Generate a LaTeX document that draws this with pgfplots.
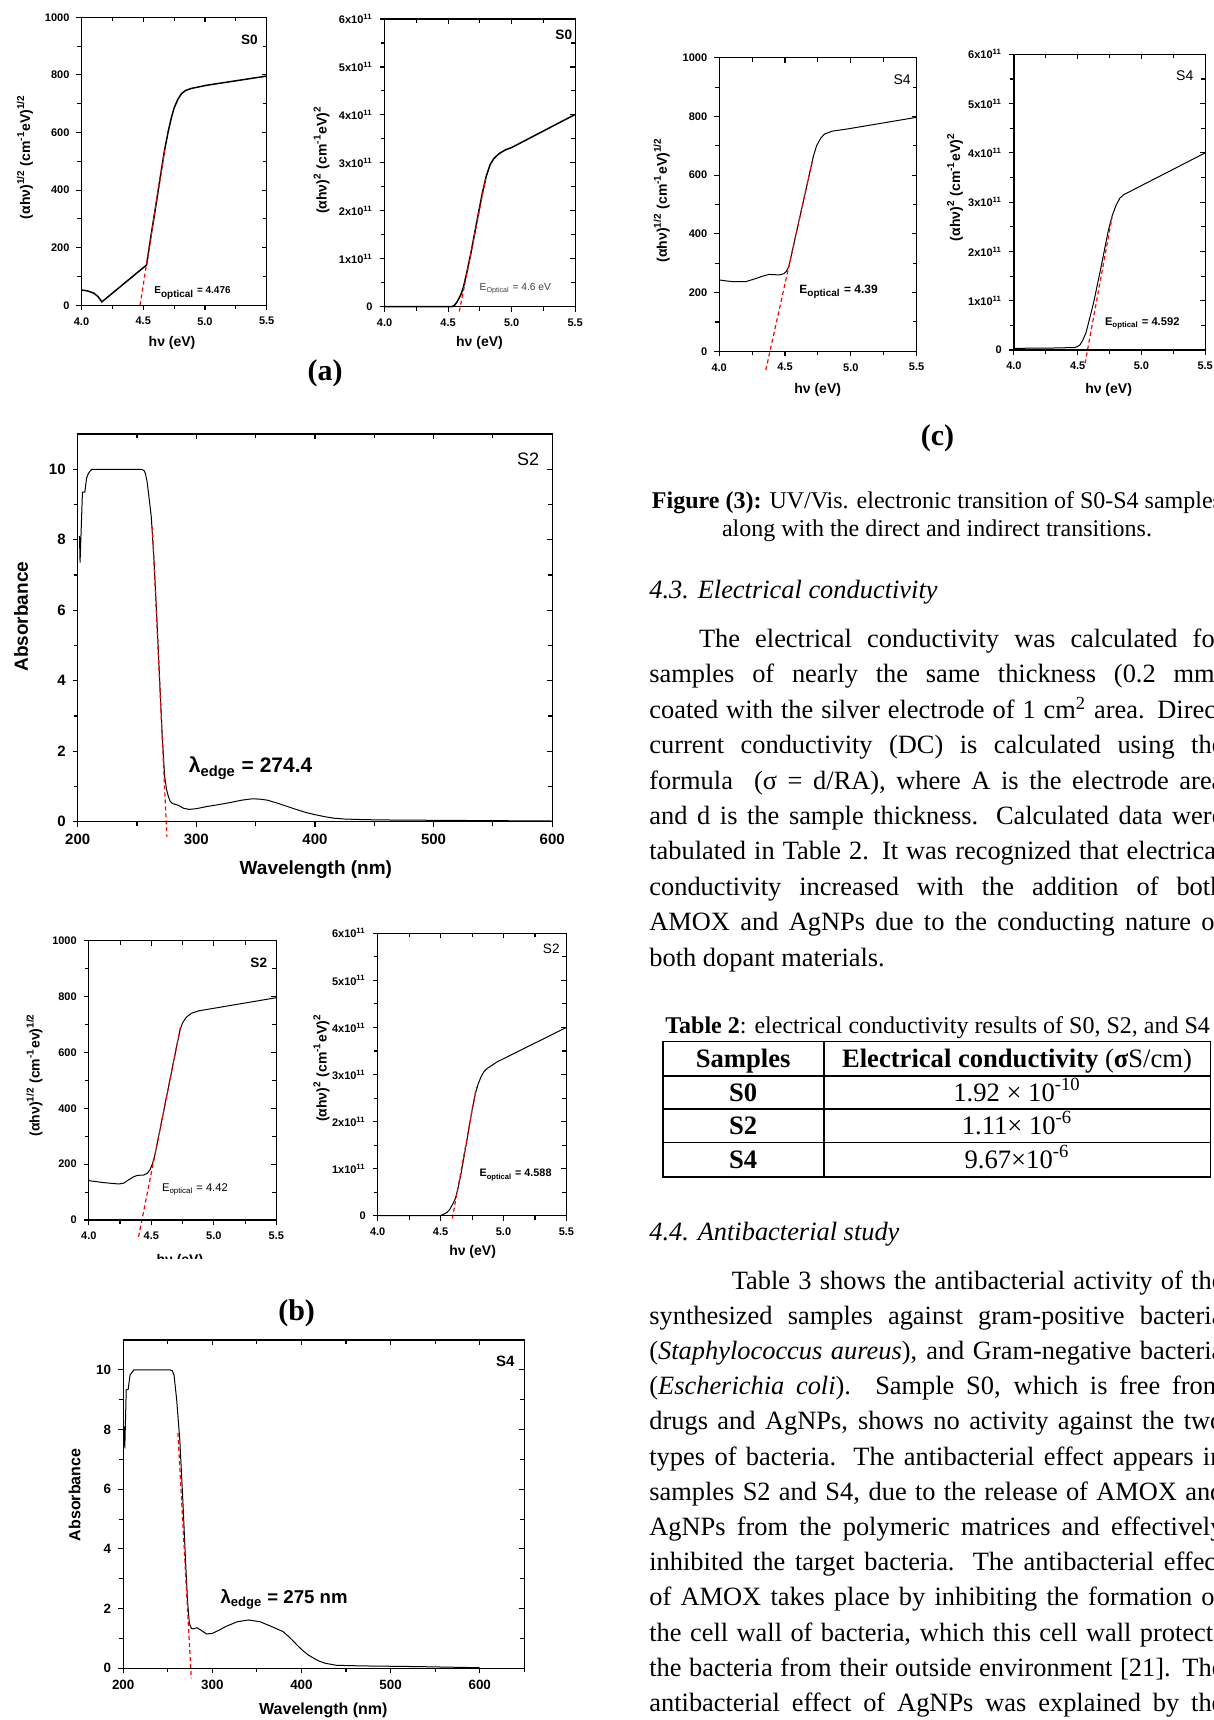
\documentclass[border=0pt]{standalone}
\usepackage{fontspec}
\setmainfont{Liberation Serif}
\newfontfamily\arial{Liberation Sans}
\usepackage{pgfplots}
\pgfplotsset{compat=1.18}
\newcommand\fs[1]{\fontsize{#1}{#1}\selectfont}

\pgfplotsset{
  base/.style={scale only axis, anchor=south west, clip=false,
    axis line style={line width=0.65pt},
    every tick/.style={black, line width=0.55pt},
    major tick length=2.5pt, minor tick length=2pt,
    /pgf/number format/assume math mode=true},
  front/.style={base, tick align=outside, xtick pos=left, ytick pos=left},
  back/.style={base, tick align=inside, xtick pos=right, ytick pos=right,
    xticklabels={}, yticklabels={}},
  ev/.style={xmin=4, xmax=5.5, xtick={4,4.5,5,5.5}, xticklabels={4.0,4.5,5.0,5.5},
    minor xtick={4.25,4.75,5.25}},
  sq/.style={ev, ymin=0, ymax=1000, ytick={0,200,400,600,800,1000},
    yticklabels={0,200,400,600,800,1000}, minor ytick={100,300,500,700,900}},
  sqq/.style={ev, ymin=0, ymax=6, ytick={0,1,2,3,4,5,6},
    yticklabels={0,1x10\textsuperscript{11},2x10\textsuperscript{11},3x10\textsuperscript{11},4x10\textsuperscript{11},5x10\textsuperscript{11},6x10\textsuperscript{11}},
    minor ytick={0.5,1.5,2.5,3.5,4.5,5.5}},
  absb/.style={ymin=0, ymax=11, ytick={0,2,4,6,8,10}, yticklabels={0,2,4,6,8,10},
    minor ytick={1,3,5,7,9}, xtick={200,300,400,500,600},
    xticklabels={200,300,400,500,600}},
  smallfont/.style={tick label style={font=\arial\bfseries\fs{5.5}},
    label style={font=\arial\bfseries\fs{7}}},
  curve/.style={black, line width=0.5pt, no markers},
  edge/.style={red, line width=0.6pt, dash pattern=on 2pt off 1.5pt, no markers},
}

\begin{document}
\begin{tikzpicture}
\fill[white] (0pt,0pt) rectangle (607pt,-860pt);
\useasboundingbox (0pt,0pt) rectangle (607pt,-860pt);

% ---------- (a) S0, indirect
\begin{axis}[front, sq, smallfont, at={(40.75pt,-152.65pt)}, width=92.6pt, height=144pt,
  xlabel={hν (eV)},
  ylabel={(αhν)\textsuperscript{1/2} (cm\textsuperscript{-1}eV)\textsuperscript{1/2}},
  xlabel style={at={(axis description cs:0.489,-0.131)}, anchor=center},
  ylabel style={at={(axis description cs:-0.305,0.515)}, anchor=center}]
\addplot[curve, line width=0.75pt] coordinates {(4.0,53) (4.05,50) (4.1,42) (4.13,32) (4.15,21)
  (4.165,12) (4.527,140) (4.56,233) (4.6,341) (4.64,450) (4.673,539) (4.703,605) (4.73,655)
  (4.75,685) (4.78,715) (4.81,735) (4.843,746) (4.889,753) (5.013,764) (5.5,796)};
\addplot[edge] coordinates {(4.474,0) (4.673,539)};
\node[anchor=west, font=\arial\bfseries\fs{5}] at (axis cs:4.533,42) {E\textsubscript{optical} = 4.476};
\node[font=\arial\bfseries\fs{6.8}] at (axis cs:5.36,921) {S0};
\end{axis}
\begin{axis}[sq, back, at={(40.75pt,-152.65pt)}, width=92.6pt, height=144pt]
\end{axis}

% ---------- (a) S0, direct
\begin{axis}[front, sqq, smallfont, at={(192.3pt,-153.35pt)}, width=95.3pt, height=143.85pt,
  xlabel={hν (eV)},
  ylabel={(αhν)\textsuperscript{2} (cm\textsuperscript{-1}eV)\textsuperscript{2}},
  xlabel style={at={(axis description cs:0.498,-0.127)}, anchor=center},
  ylabel style={at={(axis description cs:-0.331,0.51)}, anchor=center}]
\addplot[curve, line width=0.75pt] coordinates {(4.0,0) (4.53,0) (4.55,0.03) (4.57,0.1) (4.6,0.25)
  (4.62,0.4) (4.65,0.75) (4.68,1.13) (4.71,1.55) (4.74,1.97) (4.77,2.38) (4.8,2.72) (4.83,2.96)
  (4.86,3.09) (4.9,3.19) (4.95,3.27) (5.0,3.32) (5.5,4.01)};
\addplot[edge] coordinates {(4.588,-0.1) (4.795,2.66)};
\node[anchor=west, font=\arial\fs{5.1}, text=black!75] at (axis cs:4.693,0.384) {E\textsubscript{Optical} = 4.6 eV};
\node[font=\arial\bfseries\fs{6.8}] at (axis cs:5.41,5.68) {S0};
\end{axis}
\begin{axis}[sqq, back, at={(192.3pt,-153.35pt)}, width=95.3pt, height=143.85pt]
\end{axis}

% ---------- S2 absorbance
\begin{axis}[front, absb, at={(38.85pt,-410.85pt)}, width=237.25pt, height=193.85pt,
  xmin=200, xmax=600, minor xtick={250,350,450,550},
  tick label style={font=\arial\bfseries\fs{7.5}}, label style={font=\arial\bfseries\fs{9.5}},
  xlabel={Wavelength (nm)}, ylabel={Absorbance},
  xlabel style={at={(axis description cs:0.502,-0.1246)}, anchor=center},
  ylabel style={at={(axis description cs:-0.1195,0.529)}, anchor=center}]
\addplot[curve] coordinates {(201.5,8.1) (202,7.35) (204,9.35) (206,9.35) (207.5,9.75) (209,9.88)
  (210.5,9.95) (212,10) (254,10) (256,9.96) (257,9.89) (258.5,9.65) (259.7,9.32) (262,8.66)
  (264.3,7.43) (266.4,6.0) (269.1,4.0) (271.3,2.41) (273.3,1.28) (275,0.9) (276.5,0.71) (278,0.58)
  (279.7,0.52) (284.5,0.47) (289.4,0.38) (294,0.35) (300,0.37) (308.7,0.43) (318,0.48) (328,0.54)
  (338,0.61) (347,0.65) (354,0.64) (360,0.61) (368,0.53) (376,0.44) (384,0.35) (392.6,0.26)
  (400,0.2) (408.7,0.14) (416,0.1) (424.8,0.076) (440,0.06) (457,0.05) (500,0.04) (550,0.03)
  (600,0.02)};
\addplot[edge] coordinates {(262.9,8.37) (275.2,-0.43)};
\node[anchor=west, font=\arial\bfseries\fs{10.5}] at (axis cs:287.8,1.515) {λ\textsubscript{edge} = 274.4};
\node[font=\arial\fs{9}] at (axis cs:579.7,10.28) {S2};
\end{axis}
\begin{axis}[absb, back, at={(38.85pt,-410.85pt)}, width=237.25pt, height=193.85pt,
  xmin=200, xmax=600, minor xtick={250,350,450,550}]
\end{axis}

% ---------- (b) S2, indirect
\begin{axis}[front, sq, smallfont, at={(44.4pt,-610pt)}, width=93.75pt, height=139.65pt,
  xlabel={hν (eV)},
  ylabel={(αhν)\textsuperscript{1/2} (cm\textsuperscript{-1}ev)\textsuperscript{1/2}},
  xlabel style={at={(axis description cs:0.486,-0.146)}, anchor=center},
  ylabel style={at={(axis description cs:-0.29,0.519)}, anchor=center}]
\addplot[curve] coordinates {(4.0,141) (4.116,134) (4.24,129) (4.28,132) (4.315,143) (4.36,155)
  (4.39,160) (4.44,161) (4.47,168) (4.49,180) (4.51,202) (4.53,235) (4.56,302) (4.6,392) (4.65,504)
  (4.7,616) (4.73,680) (4.75,706) (4.78,726) (4.82,740) (4.88,749) (5.0,758) (5.5,796)};
\addplot[edge] coordinates {(4.398,-60) (4.735,694)};
\node[anchor=west, font=\arial\fs{5.6}] at (axis cs:4.53,110) {E\textsubscript{optical} = 4.42};
\node[font=\arial\bfseries\fs{6.8}] at (axis cs:5.36,922) {S2};
\end{axis}
\begin{axis}[sq, back, at={(44.4pt,-610pt)}, width=93.75pt, height=139.65pt]
\end{axis}

% ---------- (b) S2, direct
\begin{axis}[front, sqq, smallfont, at={(188.85pt,-607.85pt)}, width=94.35pt, height=141.2pt,
  xlabel={hν (eV)},
  ylabel={(αhν)\textsuperscript{2} (cm\textsuperscript{-1}eV)\textsuperscript{2}},
  xlabel style={at={(axis description cs:0.503,-0.1275)}, anchor=center},
  ylabel style={at={(axis description cs:-0.298,0.523)}, anchor=center}]
\addplot[curve] coordinates {(4.0,0) (4.496,0) (4.526,0.035) (4.55,0.07) (4.572,0.13) (4.595,0.24)
  (4.618,0.37) (4.64,0.6) (4.663,0.9) (4.686,1.25) (4.709,1.6) (4.73,1.93) (4.754,2.3) (4.777,2.6)
  (4.8,2.81) (4.823,2.96) (4.845,3.06) (4.87,3.13) (4.9,3.18) (4.95,3.27) (5.5,4.0)};
\addplot[edge] coordinates {(4.593,-0.06) (4.785,2.74)};
\node[anchor=west, font=\arial\bfseries\fs{5.4}] at (axis cs:4.754,0.865) {E\textsubscript{optical} = 4.588};
\node[font=\arial\fs{6.8}] at (axis cs:5.38,5.68) {S2};
\end{axis}
\begin{axis}[sqq, back, at={(188.85pt,-607.85pt)}, width=94.35pt, height=141.2pt]
\end{axis}

% ---------- S4 absorbance
\begin{axis}[front, absb, at={(61.6pt,-834.15pt)}, width=200.55pt, height=164.15pt,
  xmin=200, xmax=650, minor xtick={250,350,450,550,650},
  tick label style={font=\arial\bfseries\fs{6.7}}, label style={font=\arial\bfseries\fs{8}},
  xlabel={Wavelength (nm)}, ylabel={Absorbance},
  xlabel style={at={(axis description cs:0.499,-0.127)}, anchor=center},
  ylabel style={at={(axis description cs:-0.121,0.528)}, anchor=center}]
\addplot[curve] coordinates {(201.3,8.1) (201.8,7.37) (203.4,9.33) (205.6,9.35) (207.7,9.83)
  (212,10) (252.8,10) (255,9.97) (257,9.83) (260,9.0) (263.5,7.65) (266.9,5.64) (269.9,3.63)
  (272.1,2.29) (274.2,1.51) (276.4,1.34) (278.5,1.32) (282.8,1.36) (287.1,1.28) (293.6,1.15)
  (300,1.17) (307,1.27) (315,1.40) (327.9,1.56) (340.8,1.62) (353.6,1.56) (366.5,1.40) (379.4,1.23)
  (388,1.0) (395,0.78) (400.9,0.61) (407,0.46) (413.7,0.34) (420,0.24) (426.6,0.17) (439.5,0.10)
  (469.5,0.08) (533.9,0.056) (600,0.02)};
\addplot[edge] coordinates {(261.4,7.88) (276.4,-0.34)};
\node[anchor=west, font=\arial\bfseries\fs{9.3}] at (axis cs:301.3,2.31) {λ\textsubscript{edge} = 275 nm};
\node[font=\arial\bfseries\fs{7.5}] at (axis cs:628.6,10.27) {S4};
\end{axis}
\begin{axis}[absb, back, at={(61.6pt,-834.15pt)}, width=200.55pt, height=164.15pt,
  xmin=200, xmax=650, minor xtick={250,350,450,550,650}]
\end{axis}

% ---------- (c) S4, indirect
\begin{axis}[front, sq, smallfont, at={(359.6pt,-175.65pt)}, width=98.7pt, height=146.8pt,
  xlabel={hν (eV)},
  ylabel={(αhν)\textsuperscript{1/2} (cm\textsuperscript{-1}eV)\textsuperscript{1/2}},
  xlabel style={at={(axis description cs:0.499,-0.132)}, anchor=center},
  ylabel style={at={(axis description cs:-0.291,0.515)}, anchor=center}]
\addplot[curve] coordinates {(4.0,243) (4.05,240) (4.11,237) (4.2,237) (4.28,248) (4.33,256)
  (4.38,262) (4.42,261) (4.455,260) (4.49,264) (4.51,272) (4.53,290) (4.57,371) (4.61,452)
  (4.66,552) (4.715,663) (4.74,700) (4.77,725) (4.8,740) (4.86,750) (4.97,757) (5.5,797)};
\addplot[edge] coordinates {(4.354,-64) (4.715,663)};
\node[anchor=west, font=\arial\bfseries\fs{6}] at (axis cs:4.556,203) {E\textsubscript{optical} = 4.39};
\node[font=\arial\fs{7}] at (axis cs:5.39,926) {S4};
\end{axis}
\begin{axis}[sq, back, at={(359.6pt,-175.65pt)}, width=98.7pt, height=146.8pt]
\end{axis}

% ---------- (c) S4, direct
\begin{axis}[front, sqq, smallfont, at={(506.95pt,-175pt)}, width=95.65pt, height=147.85pt,
  xlabel={hν (eV)},
  ylabel={(αhν)\textsuperscript{2} (cm\textsuperscript{-1}eV)\textsuperscript{2}},
  xlabel style={at={(axis description cs:0.495,-0.135)}, anchor=center},
  ylabel style={at={(axis description cs:-0.308,0.551)}, anchor=center}]
\addplot[curve] coordinates {(4.0,0.034) (4.3,0.04) (4.475,0.05) (4.5,0.07) (4.52,0.11) (4.54,0.2)
  (4.564,0.34) (4.59,0.6) (4.624,0.95) (4.65,1.27) (4.683,1.68) (4.71,2.03) (4.74,2.42) (4.77,2.72)
  (4.8,2.93) (4.83,3.08) (4.86,3.15) (4.89,3.19) (5.5,4.0)};
\addplot[edge] coordinates {(4.558,-0.27) (4.77,2.7)};
\node[anchor=west, font=\arial\bfseries\fs{5.6}] at (axis cs:4.659,0.54) {E\textsubscript{optical} = 4.592};
\node[font=\arial\fs{7}] at (axis cs:5.34,5.56) {S4};
\end{axis}
\begin{axis}[sqq, back, at={(506.95pt,-175pt)}, width=95.65pt, height=147.85pt]
\end{axis}

\begin{scope}[x=0.5pt, y=-0.5pt]
\fill[white] (40,1259) rectangle (330,1296);

\node[font=\bfseries\fs{15}] at (325,373) {(a)};
\node[font=\bfseries\fs{15}] at (296.6,1313) {(b)};
\node[font=\bfseries\fs{15}] at (937.4,438) {(c)};

% ---------- caption and text
\node[anchor=base, inner sep=0] at (937,508) {\fs{12}\textbf{Figure (3):} UV/Vis. electronic transition of S0-S4 samples};
\node[anchor=base, inner sep=0] at (937,536.5) {\fs{12}along with the direct and indirect transitions.};

\node[anchor=base west, inner sep=0] at (649,598.5) {\fs{13.2}\itshape 4.3. Electrical conductivity};

\begin{scope}[every node/.style={anchor=base west, inner sep=0, font=\fs{13.2}}]
\node at (698.6,647.5) {\makebox[262.2pt][s]{The electrical conductivity was calculated for}};
\node at (649,682.9) {\makebox[287pt][s]{samples of nearly the same thickness (0.2 mm)}};
\node at (649,718.3) {\makebox[287pt][s]{coated with the silver electrode of 1 cm\textsuperscript{2} area. Direct}};
\node at (649,753.7) {\makebox[287pt][s]{current conductivity (DC) is calculated using the}};
\node at (649,789.1) {\makebox[287pt][s]{formula\ \ (σ = d/RA), where A is the electrode area}};
\node at (649,824.5) {\makebox[287pt][s]{and d is the sample thickness. Calculated data were}};
\node at (649,859.9) {\makebox[287pt][s]{tabulated in Table 2. It was recognized that electrical}};
\node at (649,895.3) {\makebox[287pt][s]{conductivity increased with the addition of both}};
\node at (649,930.7) {\makebox[287pt][s]{AMOX and AgNPs due to the conducting nature of}};
\node at (649,966.1) {both dopant materials.};

\node[font=\fs{12}] at (665,1033) {\textbf{Table 2}: electrical conductivity results of S0, S2, and S4};

\node at (649,1240) {\itshape 4.4. Antibacterial study};
\node at (731.5,1289) {\makebox[245.75pt][s]{Table 3 shows the antibacterial activity of the}};
\node at (649,1324.2) {\makebox[287pt][s]{synthesized samples against gram-positive bacteria}};
\node at (649,1359.4) {\makebox[287pt][s]{(\textit{Staphylococcus aureus}), and Gram-negative bacteria}};
\node at (649,1394.6) {\makebox[287pt][s]{(\textit{Escherichia coli}). Sample S0, which is free from}};
\node at (649,1429.8) {\makebox[287pt][s]{drugs and AgNPs, shows no activity against the two}};
\node at (649,1465) {\makebox[287pt][s]{types of bacteria. The antibacterial effect appears in}};
\node at (649,1500.2) {\makebox[287pt][s]{samples S2 and S4, due to the release of AMOX and}};
\node at (649,1535.4) {\makebox[287pt][s]{AgNPs from the polymeric matrices and effectively}};
\node at (649,1570.6) {\makebox[287pt][s]{inhibited the target bacteria. The antibacterial effect}};
\node at (649,1605.8) {\makebox[287pt][s]{of AMOX takes place by inhibiting the formation of}};
\node at (649,1641) {\makebox[287pt][s]{the cell wall of bacteria, which this cell wall protects}};
\node at (649,1676.2) {\makebox[287pt][s]{the bacteria from their outside environment [21]. The}};
\node at (649,1711.4) {\makebox[287pt][s]{antibacterial effect of AgNPs was explained by the}};
\end{scope}

% ---------- table 2
\draw[line width=0.8pt] (662.7,1041.3) rectangle (1210.3,1176.8);
\draw[line width=0.8pt] (662.7,1075.8) -- (1210.3,1075.8);
\draw[line width=0.8pt] (662.7,1108.8) -- (1210.3,1108.8);
\draw[line width=0.8pt] (662.7,1142.3) -- (1210.3,1142.3);
\draw[line width=0.8pt] (823.7,1041.3) -- (823.7,1176.8);
\begin{scope}[every node/.style={anchor=base, inner sep=0, font=\fs{13.3}}]
\node at (743.2,1067.5) {\textbf{Samples}};
\node at (1017,1067.5) {\textbf{Electrical conductivity} (\textbf{σ}S/cm)};
\node at (743.2,1101.3) {\textbf{S0}};
\node at (743.2,1134.3) {\textbf{S2}};
\node at (743.2,1168.3) {\textbf{S4}};
\node at (1017,1101.3) {1.92 × 10\textsuperscript{-10}};
\node at (1017,1134.3) {1.11× 10\textsuperscript{-6}};
\node at (1017,1168.3) {9.67×10\textsuperscript{-6}};
\end{scope}
\end{scope}
\end{tikzpicture}
\end{document}
